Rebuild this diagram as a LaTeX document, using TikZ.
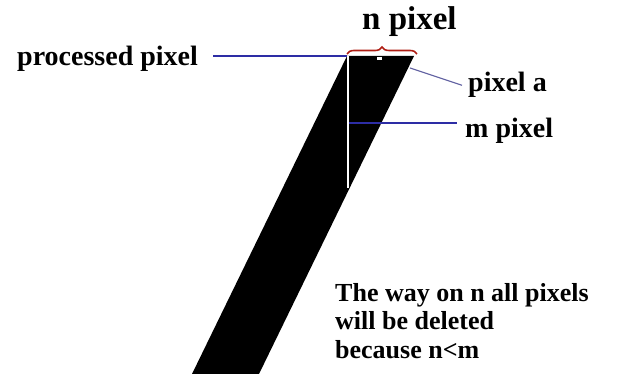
\documentclass[tikz,border=0pt]{standalone}
\usepackage{fontspec}
\setmainfont{Liberation Serif}
\usetikzlibrary{positioning, decorations.pathreplacing}

\definecolor{lineblue}{RGB}{45,45,165}
\definecolor{greyblue}{RGB}{95,95,160}
\definecolor{bracered}{RGB}{175,30,20}

\begin{document}
\begin{tikzpicture}[
    x=1pt, y=-1pt,
    tag/.style={
        font=\bfseries\fontsize{28}{30}\selectfont,
        inner sep=0pt,
        anchor=base west
    },
    note/.style={
        font=\bfseries\fontsize{26}{28.5}\selectfont,
        inner sep=0pt,
        align=left,
        anchor=north west
    },
    link/.style={
        lineblue,
        line width=1.4pt
    },
    curly/.style={
        bracered,
        line width=1.6pt,
        decorate,
        decoration={brace, amplitude=7pt}
    }
]

\useasboundingbox (0,0) rectangle (626,374);

% Band of pixels
\coordinate (tl) at (347,56);
\coordinate (tr) at (414,56);
\coordinate (bl) at (192,374);
\coordinate (br) at (259,374);
\fill[black] (tl) -- (tr) -- (br) -- (bl) -- cycle;

% m pixel column and pixel a
\coordinate (mtop) at (348,56);
\coordinate (mbot) at (348,188);
\draw[white, line width=1.5pt] (mtop) -- (mbot);
\fill[white] (377,57) rectangle (382,60);

% Brace over n pixel
\draw[curly] (347,54) -- (417,54);

% Labels
\node[tag, font=\bfseries\fontsize{33}{36}\selectfont] (npix) at (362,30) {n pixel};
\node[tag] (proc) at (17,66) {processed pixel};
\node[tag] (pixa) at (468,92) {pixel a};
\node[tag] (mpix) at (465,138) {m pixel};

\node[note] (way) at (335,283) {
    The way on n all pixels\\
    will be deleted\\
    because n<m
};

% Connectors
\coordinate (aend) at (410,68);
\coordinate (mline) at (349,123);

\draw[link] ([xshift=15pt]proc.east |- tl) -- (tl);
\draw[link, greyblue, line width=1.1pt] (aend) -- ([xshift=-6pt]pixa.west);
\draw[link, line width=1.8pt] (mline) -- ([xshift=-8pt]mpix.west |- mline);

\end{tikzpicture}
\end{document}
